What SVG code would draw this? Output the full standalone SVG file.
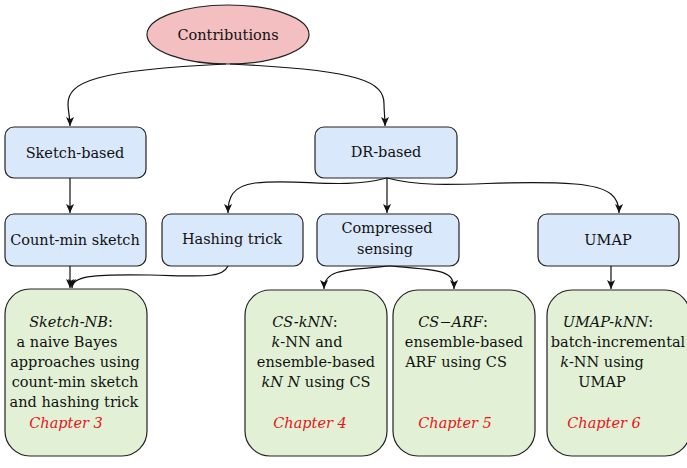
<svg xmlns="http://www.w3.org/2000/svg" width="687" height="468" viewBox="0 0 687 468">
<defs>
<marker id="ah" viewBox="0 0 10 10" refX="10" refY="5" markerWidth="9" markerHeight="9" markerUnits="userSpaceOnUse" orient="auto">
<path d="M0,0.5 L10,5 L0,9.5 L2.5,5 Z" fill="#111"/>
</marker>
<style>
.t{font-family:"DejaVu Serif","Liberation Serif",serif;font-size:14.5px;fill:#111;text-anchor:middle}
.i{font-style:italic}
.red{fill:#e8151b;font-style:italic}
.blue{fill:#dae8fc;stroke:#222;stroke-width:1.2}
.green{fill:#e2f1d6;stroke:#222;stroke-width:1.2}
.c{fill:none;stroke:#111;stroke-width:1.2;marker-end:url(#ah)}
</style>
</defs>
<g id="contributions">
<ellipse cx="228" cy="34.5" rx="81" ry="29.5" fill="#f4bfc1" stroke="#222" stroke-width="1.2"/>
<text class="t" x="228" y="40">Contributions</text>
</g>
<g id="sketch-based">
<rect class="blue" x="5" y="127" width="141" height="51" rx="9"/>
<text class="t" x="75" y="158">Sketch-based</text>
</g>
<g id="dr-based">
<rect class="blue" x="315" y="127" width="142" height="51" rx="9"/>
<text class="t" x="386" y="157">DR-based</text>
</g>
<g id="count-min">
<rect class="blue" x="5" y="214" width="141" height="52" rx="9"/>
<text class="t" x="75" y="245">Count-min sketch</text>
</g>
<g id="hashing">
<rect class="blue" x="162" y="214" width="141" height="52" rx="9"/>
<text class="t" x="232" y="244">Hashing trick</text>
</g>
<g id="compressed">
<rect class="blue" x="317" y="214" width="142" height="52" rx="9"/>
<text class="t" x="387" y="233">Compressed</text>
<text class="t" x="385" y="254">sensing</text>
</g>
<g id="umap">
<rect class="blue" x="538" y="214" width="141" height="52" rx="9"/>
<text class="t" x="608" y="245">UMAP</text>
</g>
<g id="sketch-nb">
<rect class="green" x="5" y="289" width="142" height="167" rx="25"/>
<text class="t" x="71" y="327"><tspan class="i">Sketch-NB</tspan>:</text>
<text class="t" x="67" y="347">a naive Bayes</text>
<text class="t" x="75" y="367">approaches using</text>
<text class="t" x="75" y="387">count-min sketch</text>
<text class="t" x="74" y="407">and hashing trick</text>
<text class="t red" x="66" y="428">Chapter 3</text>
</g>
<g id="cs-knn">
<rect class="green" x="245" y="290" width="142" height="166" rx="25"/>
<text class="t" x="305" y="327"><tspan class="i">CS-kNN</tspan>:</text>
<text class="t" x="307" y="347"><tspan class="i">k</tspan>-NN and</text>
<text class="t" x="316" y="367">ensemble-based</text>
<text class="t" x="316" y="387"><tspan class="i">kN N</tspan> using CS</text>
<text class="t red" x="310" y="428">Chapter 4</text>
</g>
<g id="cs-arf">
<rect class="green" x="393" y="290" width="142" height="166" rx="25"/>
<text class="t" x="453" y="327"><tspan class="i">CS</tspan>−<tspan class="i">ARF</tspan>:</text>
<text class="t" x="464" y="347">ensemble-based</text>
<text class="t" x="456" y="367">ARF using CS</text>
<text class="t red" x="455" y="428">Chapter 5</text>
</g>
<g id="umap-knn">
<rect class="green" x="547" y="290" width="143" height="166" rx="25"/>
<text class="t" x="608" y="327"><tspan class="i">UMAP-kNN</tspan>:</text>
<text class="t" x="618" y="347">batch-incremental</text>
<text class="t" x="602" y="367"><tspan class="i">k</tspan>-NN using</text>
<text class="t" x="602" y="387">UMAP</text>
<text class="t red" x="604" y="428">Chapter 6</text>
</g>
<g id="connectors">
<path class="c" d="M226,64 C95,70 68,82 68,104 C68,112 70,116 70,126"/>
<path class="c" d="M230,64 C362,70 384,82 384,104 C384,112 385,116 385,126"/>
<path class="c" d="M70,178 L70,213"/>
<path class="c" d="M387,178 L387,213"/>
<path class="c" d="M387,178 C340,190 300,178 255,183 C232,186 228,198 228,213"/>
<path class="c" d="M387,178 C440,192 500,178 575,184 C612,187 619,198 619,213"/>
<path class="c" d="M390,266 C342,270 324,270 324,289"/>
<path class="c" d="M390,266 C440,270 454,270 454,289"/>
<path class="c" d="M228,266 C222,279 200,276 150,275 C92,274 72,276 72,288"/>
<path class="c" d="M70,266 L70,288"/>
<path class="c" d="M611,266 L611,289"/>
</g>
</svg>
